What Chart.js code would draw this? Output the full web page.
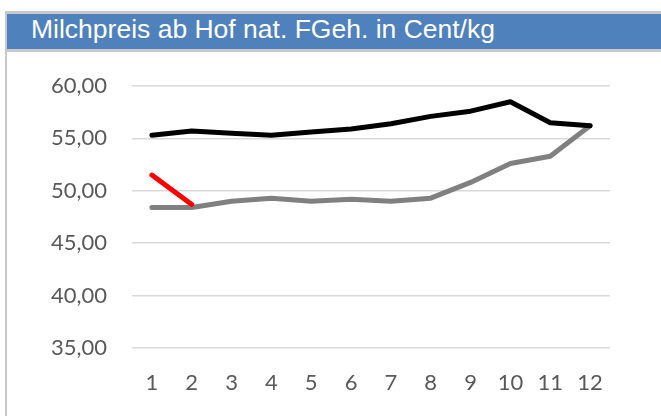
<!DOCTYPE html>
<html>
<head>
<meta charset="utf-8">
<script src="https://cdn.jsdelivr.net/npm/chart.js@4"></script>
<style>
    html, body { margin: 0; padding: 0; background: #fff; }
    #page { position: relative; width: 661px; height: 416px; overflow: hidden; }
    #frame {
        position: absolute; left: 5px; top: 11px; right: 0; bottom: -5px;
        border-left: 2px solid #c8c8c8; border-top: 3px solid #c8c8c8;
    }
    #titlebar {
        position: absolute; left: 0; top: 0; right: 0; height: 35px;
        background: #4f81bd; border-bottom: 3px solid #c8c8c8;
    }
    #titlebar span {
        position: absolute; left: 24px; top: 1px;
        font-family: "Liberation Sans", Arial, sans-serif; font-size: 25px;
        color: #fff; white-space: nowrap;
        transform: scaleX(1.06); transform-origin: left center;
    }
    #chart { position: absolute; left: 0; top: 0; }
</style>
</head>
<body>
<div id="page">
    <div id="frame"><div id="titlebar"><span>Milchpreis ab Hof nat. FGeh. in Cent/kg</span></div></div>
    <canvas id="chart" width="661" height="416"></canvas>
</div>
<script>
const months = ['1', '2', '3', '4', '5', '6', '7', '8', '9', '10', '11', '12'];
const blackSeries = [55.3, 55.7, 55.5, 55.3, 55.6, 55.9, 56.4, 57.1, 57.6, 58.5, 56.5, 56.2];
const graySeries = [48.4, 48.4, 49.0, 49.3, 49.0, 49.2, 49.0, 49.3, 50.8, 52.6, 53.3, 56.2];
const redSeries = [51.5, 48.7, null, null, null, null, null, null, null, null, null, null];
const yMin = 35;
const yMax = 60;

const fmt = v => v.toFixed(2).replace('.', ',');

new Chart(document.getElementById('chart'), {
    type: 'line',
    data: {
        labels: months,
        datasets: [
            { label: 'Prognose', data: redSeries, borderColor: '#ff0000', borderWidth: 5 },
            { label: 'Vorjahr', data: blackSeries, borderColor: '#000000', borderWidth: 5 },
            { label: 'aktuell', data: graySeries, borderColor: '#808080', borderWidth: 5 }
        ]
    },
    options: {
        responsive: false,
        animation: false,
        layout: { padding: { left: 0, top: 86, right: 51, bottom: 0 } },
        elements: {
            point: { radius: 0 },
            line: { tension: 0, borderCapStyle: 'round', borderJoinStyle: 'round' }
        },
        plugins: { legend: { display: false }, tooltip: { enabled: false } },
        scales: {
            x: {
                offset: true,
                grid: { display: false, drawTicks: false },
                border: { display: false },
                ticks: { color: '#595959', padding: 22, font: { family: 'Lato', size: 22 } },
                afterFit: scale => { scale.height = 68; }
            },
            y: {
                min: yMin,
                max: yMax,
                grid: { color: '#d9d9d9', lineWidth: 1.5, drawTicks: false },
                border: { display: false },
                ticks: {
                    stepSize: 5, color: '#595959', padding: 25,
                    font: { family: 'Lato', size: 22 },
                    callback: v => fmt(v)
                },
                afterFit: scale => { scale.width = 132; }
            }
        }
    }
});
</script>
</body>
</html>
